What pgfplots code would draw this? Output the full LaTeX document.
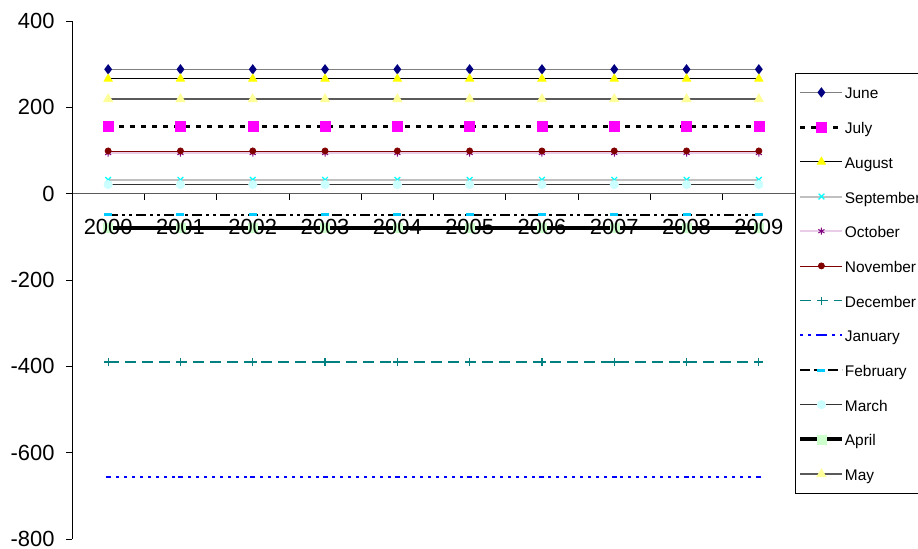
\documentclass[border=0pt]{standalone}
\usepackage{fontspec}
\setmainfont{Liberation Sans}
\usepackage{pgfplots}
\pgfplotsset{compat=1.18}

\definecolor{navyc}{RGB}{0,0,128}
\definecolor{magc}{RGB}{255,0,255}
\definecolor{yelc}{RGB}{255,255,0}
\definecolor{turqc}{RGB}{0,255,255}
\definecolor{purpc}{RGB}{128,0,128}
\definecolor{dredc}{RGB}{128,0,0}
\definecolor{tealc}{RGB}{0,128,128}
\definecolor{bluec}{RGB}{0,0,255}
\definecolor{skyc}{RGB}{0,204,255}
\definecolor{ltturq}{RGB}{204,255,255}
\definecolor{ltgreen}{RGB}{204,255,204}
\definecolor{ltyel}{RGB}{255,255,153}
\definecolor{grayc}{RGB}{128,128,128}
\definecolor{silverc}{RGB}{192,192,192}
\definecolor{lavc}{RGB}{232,204,232}

\begin{document}
\begin{tikzpicture}
\begin{axis}[
    at={(72bp,10bp)}, anchor=south west,
    width=723bp, height=518bp, scale only axis,
    set layers=axis on top,
    xmin=-0.5, xmax=9.5,
    ymin=-800, ymax=400,
    axis y line*=left,
    axis x line*=middle,
    x axis line style={draw={rgb,255:red,90;green,90;blue,90}, -},
    y axis line style={-},
    xtick={0,...,9},
    xticklabels={2000,2001,2002,2003,2004,2005,2006,2007,2008,2009},
    minor xtick={0.5,1.5,...,8.5},
    major x tick style={draw=none},
    ytick={-800,-600,...,400},
    tick align=outside,
    major tick length=6bp, minor tick length=6bp,
    tick style={black, line width=0.8bp},
    ticklabel style={font=\fontsize{22}{22}\selectfont},
    /pgf/number format/assume math mode=true,
    yticklabel style={xshift=-8bp},
    xticklabel style={yshift=-16bp},
    legend cell align=left,
    legend style={at={(1,0.8996)}, anchor=north west,
        font=\fontsize{15.5}{15.5}\selectfont, draw=black, line width=0.8bp,
        inner xsep=3bp, inner ysep=12bp, row sep=20.7bp,
        nodes={inner sep=0.5bp, text height=13bp, text depth=0bp}},
    legend image code/.code={
        \draw[mark repeat=2, mark phase=2] plot coordinates {(0bp,0bp) (21bp,0bp) (42bp,0bp)};},
]
% June
\addplot[grayc, line width=1.5bp, mark=diamond*, mark size=4bp, mark options={fill=navyc, draw=navyc}]
coordinates {(0,288)(1,288)(2,288)(3,288)(4,288)(5,288)(6,288)(7,288)(8,288)(9,288)};
\addlegendentry{June}
% July
\addplot[black, line width=3bp, dash pattern=on 5bp off 6bp, mark=square*, mark size=5bp, mark options={solid, fill=magc, draw=magc, line width=0.5bp}]
coordinates {(0,155)(1,155)(2,155)(3,155)(4,155)(5,155)(6,155)(7,155)(8,155)(9,155)};
\addlegendentry{July}
% August
\addplot[black, line width=1bp, mark=triangle*, mark size=4.5bp, mark options={fill=yelc, draw=yelc}]
coordinates {(0,266)(1,266)(2,266)(3,266)(4,266)(5,266)(6,266)(7,266)(8,266)(9,266)};
\addlegendentry{August}
% September
\addplot[silverc, line width=2bp, mark=x, mark size=4bp, mark options={draw=turqc, line width=1.2bp}]
coordinates {(0,32)(1,32)(2,32)(3,32)(4,32)(5,32)(6,32)(7,32)(8,32)(9,32)};
\addlegendentry{September}
% October
\addplot[lavc, line width=2bp, mark=asterisk, mark size=3.5bp, mark options={draw=purpc, line width=1bp}]
coordinates {(0,94)(1,94)(2,94)(3,94)(4,94)(5,94)(6,94)(7,94)(8,94)(9,94)};
\addlegendentry{October}
% November
\addplot[dredc, line width=0.8bp, mark=*, mark size=3bp, mark options={fill=dredc, draw=dredc}]
coordinates {(0,99)(1,99)(2,99)(3,99)(4,99)(5,99)(6,99)(7,99)(8,99)(9,99)};
\addlegendentry{November}
% December
\addplot[tealc, line width=1.5bp, dash pattern=on 11bp off 6bp, mark=+, mark size=4bp, mark options={solid, draw=tealc, line width=1.2bp}]
coordinates {(0,-390)(1,-390)(2,-390)(3,-390)(4,-390)(5,-390)(6,-390)(7,-390)(8,-390)(9,-390)};
\addlegendentry{December}
% January
\addplot[bluec, line width=2bp, dash pattern=on 3bp off 5bp, mark=-, mark size=2.5bp, mark options={solid, draw=bluec, line width=2bp}]
coordinates {(0,-657)(1,-657)(2,-657)(3,-657)(4,-657)(5,-657)(6,-657)(7,-657)(8,-657)(9,-657)};
\addlegendentry{January}
% February
\addplot[black, line width=1.5bp, dash pattern=on 10bp off 4bp on 3bp off 4bp on 3bp off 4bp, mark=-, mark size=4bp, mark options={solid, draw=skyc, line width=3bp}]
coordinates {(0,-49)(1,-49)(2,-49)(3,-49)(4,-49)(5,-49)(6,-49)(7,-49)(8,-49)(9,-49)};
\addlegendentry{February}
% March
\addplot[black!80, line width=1bp, mark=*, mark size=4bp, mark options={fill=ltturq, draw=ltturq}]
coordinates {(0,21)(1,21)(2,21)(3,21)(4,21)(5,21)(6,21)(7,21)(8,21)(9,21)};
\addlegendentry{March}
% April
\addplot[black, line width=4bp, mark=square*, mark size=4.5bp, mark options={fill=ltgreen, draw=ltgreen, line width=0.5bp}]
coordinates {(0,-79)(1,-79)(2,-79)(3,-79)(4,-79)(5,-79)(6,-79)(7,-79)(8,-79)(9,-79)};
\addlegendentry{April}
% May
\addplot[grayc!70!black, line width=1.5bp, mark=triangle*, mark size=4.5bp, mark options={fill=ltyel, draw=ltyel}]
coordinates {(0,219)(1,219)(2,219)(3,219)(4,219)(5,219)(6,219)(7,219)(8,219)(9,219)};
\addlegendentry{May}
\end{axis}
\pgfresetboundingbox
\path[use as bounding box] (0,0) rectangle (918bp,549bp);
\end{tikzpicture}
\end{document}
